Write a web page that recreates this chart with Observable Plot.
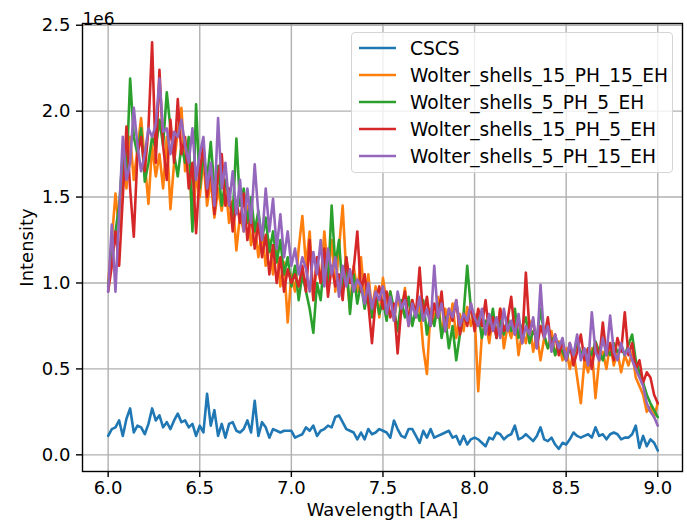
<!DOCTYPE html>
<html>
<head>
<meta charset="utf-8">
<script src="https://cdn.jsdelivr.net/npm/d3@7"></script>
<script src="https://cdn.jsdelivr.net/npm/@observablehq/plot@0.6"></script>
<style>
  html, body { margin: 0; padding: 0; background: white; }
  #wrap { position: relative; width: 687px; height: 525px; font-family: "DejaVu Sans", sans-serif; }
  #legend { position: absolute; left: 351px; top: 32px; width: 322px; height: 141px; box-sizing: border-box;
            border: 1px solid #d5d5d5; border-radius: 4px; background: rgba(255,255,255,0.8); }
  .item { position: absolute; left: 0; height: 22px; display: flex; align-items: center; font-size: 18.6px; color: black; white-space: nowrap; }
  .item svg { margin-left: 7px; margin-right: 14px; }
</style>
</head>
<body>
<div id="wrap"></div>
<script>
// Wavelength grid [AA]: 6.00 to 9.00 in steps of 0.02
const wavelengthStart = 6.0, wavelengthStep = 0.02;

const seriesNames = ["CSCS", "Wolter_shells_15_PH_15_EH", "Wolter_shells_5_PH_5_EH", "Wolter_shells_15_PH_5_EH", "Wolter_shells_5_PH_15_EH"];
const seriesColors = ["#1f77b4", "#ff7f0e", "#2ca02c", "#d62728", "#9467bd"];

// Intensity values in units of 1e6
const cscs = [0.11,0.15,0.16,0.20,0.11,0.21,0.27,0.13,0.17,0.16,0.12,0.18,0.27,0.20,0.23,0.16,0.19,0.15,0.20,0.24,0.19,0.20,0.16,0.18,0.11,0.17,0.13,0.355,0.17,0.26,0.11,0.18,0.10,0.18,0.19,0.14,0.13,0.15,0.20,0.13,0.315,0.11,0.19,0.16,0.10,0.15,0.14,0.13,0.14,0.14,0.14,0.10,0.11,0.12,0.16,0.14,0.17,0.11,0.14,0.15,0.17,0.16,0.22,0.23,0.19,0.15,0.14,0.13,0.09,0.13,0.09,0.15,0.12,0.13,0.15,0.14,0.13,0.10,0.20,0.15,0.11,0.10,0.15,0.15,0.11,0.07,0.14,0.10,0.15,0.10,0.11,0.12,0.13,0.14,0.10,0.11,0.06,0.11,0.06,0.09,0.10,0.09,0.07,0.05,0.10,0.09,0.13,0.12,0.09,0.11,0.12,0.17,0.09,0.10,0.12,0.10,0.08,0.11,0.16,0.09,0.08,0.10,0.06,0.035,0.07,0.06,0.09,0.13,0.11,0.10,0.11,0.12,0.10,0.16,0.11,0.12,0.09,0.12,0.13,0.12,0.09,0.10,0.10,0.12,0.17,0.04,0.11,0.05,0.09,0.07,0.025];

const ph15eh15 = [1.00,1.25,1.52,1.30,1.70,1.55,1.85,1.60,1.78,1.96,1.70,1.46,1.80,1.62,1.75,1.55,1.85,1.43,1.70,1.88,2.02,1.65,1.80,1.32,1.62,1.50,1.72,1.45,1.60,1.38,1.55,1.42,1.58,1.35,1.48,1.19,1.40,1.30,1.45,1.22,1.35,1.15,1.30,1.10,1.25,1.05,1.20,0.98,1.12,0.77,1.05,0.95,1.20,1.39,1.10,1.30,0.90,1.15,1.00,1.30,1.05,1.25,0.95,1.20,1.45,1.05,0.85,1.10,0.95,1.15,0.90,1.05,0.85,0.98,0.80,1.03,0.88,0.95,0.78,0.92,0.82,0.97,0.75,0.90,0.80,0.88,0.62,0.47,0.85,0.78,0.92,0.70,0.85,0.74,0.88,0.68,0.82,0.72,0.86,0.75,0.82,0.37,0.70,0.78,0.65,0.80,0.70,0.85,0.62,0.75,0.68,0.80,0.58,0.72,0.65,0.78,0.60,0.70,0.55,0.68,0.62,0.72,0.58,0.66,0.55,0.62,0.50,0.60,0.45,0.30,0.55,0.48,0.62,0.33,0.55,0.60,0.50,0.65,0.52,0.60,0.48,0.58,0.52,0.60,0.45,0.40,0.35,0.25,0.28,0.22,0.30];

const ph5eh5 = [0.98,1.15,1.30,1.45,1.75,1.63,2.19,1.85,1.75,1.90,1.59,1.70,1.85,1.78,1.95,1.80,2.11,1.90,1.75,1.62,1.80,1.70,1.85,1.30,2.04,1.55,1.75,1.60,1.82,1.55,1.68,1.45,1.60,1.50,1.38,1.84,1.45,1.55,1.35,1.50,1.30,1.42,1.25,1.38,1.18,1.30,1.12,1.25,1.05,1.15,0.98,1.10,0.90,1.05,0.95,0.85,0.71,1.00,0.90,1.15,1.00,1.45,1.10,1.25,0.95,1.15,0.82,1.05,0.88,1.00,0.85,0.97,0.80,0.93,0.82,0.90,0.78,0.95,0.85,0.72,0.90,0.80,0.92,0.75,0.85,0.78,0.90,0.70,0.82,0.75,0.88,0.68,0.80,0.62,0.75,0.55,0.70,0.82,1.10,0.85,0.75,0.82,0.68,0.78,0.72,0.85,0.68,0.78,0.70,0.80,0.72,0.85,0.68,0.75,0.80,0.65,0.72,0.68,0.85,0.70,0.62,0.68,0.58,0.65,0.60,0.55,0.62,0.58,0.65,0.60,0.56,0.62,0.58,0.66,0.60,0.55,0.62,0.58,0.65,0.60,0.62,0.58,0.64,0.70,0.55,0.48,0.42,0.35,0.30,0.26,0.22];

const ph15eh5 = [0.95,1.10,1.30,1.10,1.50,1.91,1.55,1.27,1.75,1.85,1.65,1.90,2.40,1.70,2.24,1.80,1.60,1.95,1.70,2.07,1.75,1.85,1.55,1.70,1.29,1.65,1.80,1.50,1.68,1.40,1.62,1.75,1.45,1.55,1.30,1.48,1.35,1.52,1.25,1.40,1.20,1.35,1.15,1.28,1.05,1.22,1.00,1.15,0.95,1.08,1.00,1.05,0.98,1.10,0.95,1.25,0.90,1.15,1.00,1.20,0.92,1.10,0.98,1.05,0.90,1.15,1.00,1.08,1.30,0.95,1.05,0.88,0.65,0.90,0.98,0.85,0.95,0.80,0.88,0.59,0.85,0.95,0.78,0.90,0.82,1.09,0.80,0.92,0.75,0.88,0.80,0.95,0.72,0.85,0.78,0.90,0.70,0.82,0.75,0.88,0.72,0.85,0.75,0.90,0.70,0.80,0.68,0.85,0.72,0.78,0.92,0.70,0.80,0.65,1.06,0.72,0.78,0.62,0.75,0.68,0.80,0.62,0.70,0.58,0.66,0.55,0.65,0.52,0.60,0.70,0.55,0.62,0.50,0.65,0.55,0.77,0.58,0.65,0.55,0.68,0.60,0.83,0.58,0.65,0.50,0.55,0.42,0.48,0.45,0.35,0.30];

const ph5eh15 = [0.95,1.34,0.95,1.40,1.85,1.60,1.70,2.02,1.80,1.65,1.75,1.90,1.85,1.92,2.19,1.88,1.90,1.75,1.88,1.85,1.95,1.80,1.70,1.90,1.60,1.75,1.85,1.55,1.70,1.45,1.96,1.55,1.70,1.45,1.65,1.40,1.60,1.30,1.55,1.35,1.69,1.40,1.25,1.55,1.30,1.49,1.20,1.40,1.15,1.30,1.10,1.20,1.05,1.15,1.08,0.95,1.18,1.05,1.25,0.98,1.20,1.05,1.15,0.92,1.10,0.98,1.08,0.95,1.02,0.98,0.88,1.00,0.85,0.95,0.90,0.98,0.82,0.92,0.78,0.95,0.85,0.90,0.75,0.88,0.80,0.92,0.78,0.85,0.75,1.10,0.80,0.88,0.72,0.85,0.80,0.90,0.75,0.82,0.78,0.88,0.80,0.75,0.85,0.70,0.82,0.72,0.80,0.68,0.85,0.72,0.78,0.70,0.82,0.65,0.75,0.70,0.80,0.62,0.99,0.68,0.75,0.60,0.70,0.62,0.68,0.55,0.65,0.58,0.70,0.55,0.62,0.52,0.83,0.60,0.55,0.68,0.58,0.81,0.60,0.55,0.65,0.58,0.62,0.55,0.50,0.45,0.40,0.30,0.25,0.22,0.17];

const xTicks = [6.0, 6.5, 7.0, 7.5, 8.0, 8.5, 9.0];
const yTicks = [0.0, 0.5, 1.0, 1.5, 2.0, 2.5];

const allSeries = [cscs, ph15eh15, ph5eh5, ph15eh5, ph5eh15];
const data = [];
allSeries.forEach((vals, s) => {
  vals.forEach((v, i) => {
    data.push({series: seriesNames[s], wavelength: +(wavelengthStart + i * wavelengthStep).toFixed(2), intensity: v});
  });
});

const chart = Plot.plot({
  width: 687,
  height: 525,
  marginLeft: 82,
  marginRight: 5,
  marginTop: 23,
  marginBottom: 54,
  style: {fontFamily: "DejaVu Sans", fontSize: "18px", color: "black", background: "white", overflow: "visible"},
  x: {domain: [5.86, 9.135]},
  y: {domain: [-0.097, 2.51]},
  color: {domain: seriesNames, range: seriesColors},
  marks: [
    Plot.gridX(xTicks, {stroke: "#b0b0b0", strokeOpacity: 1, strokeWidth: 1.4}),
    Plot.gridY(yTicks, {stroke: "#b0b0b0", strokeOpacity: 1, strokeWidth: 1.4}),
    Plot.line(data, {x: "wavelength", y: "intensity", z: "series", stroke: "series", strokeWidth: 2.6, strokeLinejoin: "round"}),
    Plot.frame({stroke: "black", strokeWidth: 1.4}),
    Plot.axisX(xTicks, {tickFormat: d3.format(".1f"), tickSize: 6, tickPadding: 4, label: null, fontSize: 18, strokeWidth: 1.4}),
    Plot.axisY(yTicks, {tickFormat: d3.format(".1f"), tickSize: 6, tickPadding: 6, label: null, fontSize: 18, strokeWidth: 1.4}),
    Plot.text(["Wavelength [AA]"], {text: d => d, frameAnchor: "bottom", dy: 44, fontSize: 18}),
    Plot.text(["Intensity"], {text: d => d, frameAnchor: "left", dx: -55, rotate: -90, textAnchor: "middle", fontSize: 18}),
    Plot.text(["1e6"], {text: d => d, frameAnchor: "top-left", dy: -11, textAnchor: "start", fontSize: 17})
  ]
});

const wrap = document.getElementById("wrap");
wrap.appendChild(chart);

const legend = document.createElement("div");
legend.id = "legend";
const rowCenters = [15, 42, 69, 96, 123];
seriesNames.forEach((name, k) => {
  const item = document.createElement("div");
  item.className = "item";
  item.style.top = (rowCenters[k] - 11) + "px";
  item.innerHTML = `<svg width="37" height="6"><line x1="0" y1="3" x2="37" y2="3" stroke="${seriesColors[k]}" stroke-width="2.6"/></svg><span>${name}</span>`;
  legend.appendChild(item);
});
wrap.appendChild(legend);
</script>
</body>
</html>
